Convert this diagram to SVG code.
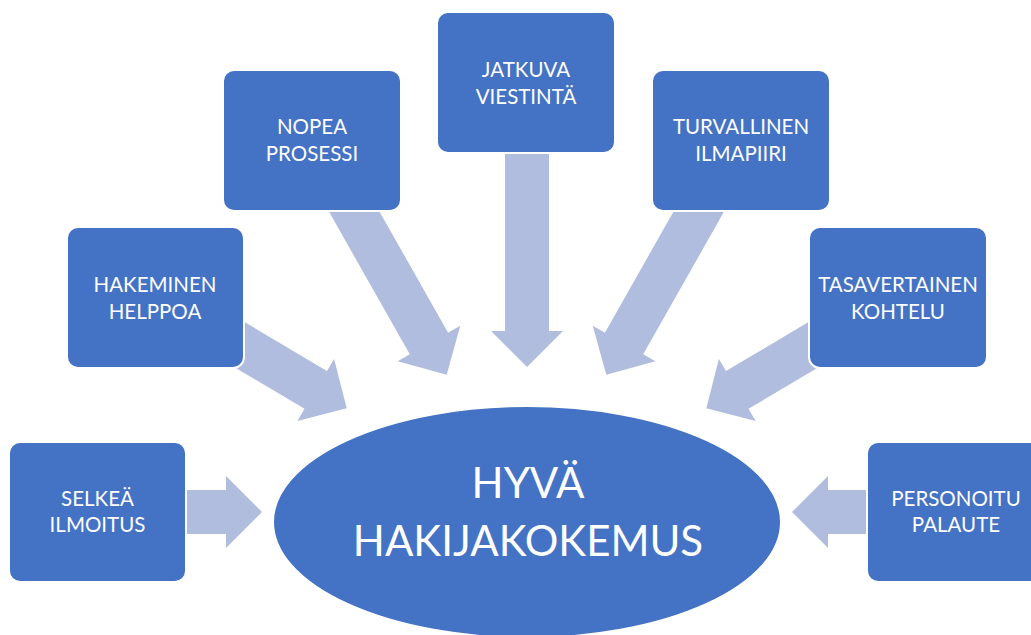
<svg xmlns="http://www.w3.org/2000/svg" width="1031" height="635" viewBox="0 0 1031 635">
<style>
.box{fill:#4472C4;stroke:#ffffff;stroke-width:2}
.arr{fill:#B0BDDF}
.t{font-family:Lato,"Open Sans","Liberation Sans",sans-serif;font-size:20.5px;fill:#ffffff;text-anchor:middle}
.big{font-family:Lato,"Open Sans","Liberation Sans",sans-serif;font-size:42px;fill:#ffffff;text-anchor:middle}
</style>
<defs>
<polygon id="a82" points="-82,-22 -36,-22 -36,-36 0,0 -36,36 -36,22 -82,22"/>
<polygon id="a90" points="-90,-22 -36,-22 -36,-36 0,0 -36,36 -36,22 -90,22"/>
<polygon id="a145" points="-145,-22 -36,-22 -36,-36 0,0 -36,36 -36,22 -145,22"/>
<polygon id="a215" points="-215,-22 -36,-22 -36,-36 0,0 -36,36 -36,22 -215,22"/>
<polygon id="a227" points="-227,-22 -36,-22 -36,-36 0,0 -36,36 -36,22 -227,22"/>
</defs>
<rect width="1031" height="635" fill="#ffffff"/>
<g id="connectors" class="arr">
<use href="#a82" transform="translate(262,512)"/>
<use href="#a90" transform="translate(792,512) rotate(180)"/>
<use href="#a227" transform="translate(527,367) rotate(90)"/>
<use href="#a215" transform="translate(446.7,374.8) rotate(60.46)"/>
<use href="#a215" transform="translate(606.3,374.8) rotate(119.54)"/>
<use href="#a145" transform="translate(346.7,408.3) rotate(30.7)"/>
<use href="#a145" transform="translate(706.3,408.3) rotate(149.3)"/>
</g>
<g id="center">
<ellipse cx="527" cy="522" rx="254" ry="116" fill="#4472C4" stroke="#ffffff" stroke-width="2"/>
<text class="big" x="528" y="498">HYVÄ</text>
<text class="big" x="528" y="556">HAKIJAKOKEMUS</text>
</g>
<g id="selkea">
<rect class="box" x="9" y="442" width="177" height="140" rx="11"/>
<text class="t" x="97.5" y="506">SELKEÄ</text>
<text class="t" x="97.5" y="532">ILMOITUS</text>
</g>
<g id="hakeminen">
<rect class="box" x="67" y="227" width="177" height="141" rx="11"/>
<text class="t" x="155" y="292">HAKEMINEN</text>
<text class="t" x="155" y="319">HELPPOA</text>
</g>
<g id="nopea">
<rect class="box" x="223" y="70" width="178" height="141" rx="11"/>
<text class="t" x="312" y="134">NOPEA</text>
<text class="t" x="312" y="161">PROSESSI</text>
</g>
<g id="jatkuva">
<rect class="box" x="437" y="12" width="178" height="141" rx="11"/>
<text class="t" x="526" y="77">JATKUVA</text>
<text class="t" x="526" y="104">VIESTINTÄ</text>
</g>
<g id="turvallinen">
<rect class="box" x="652" y="70" width="178" height="141" rx="11"/>
<text class="t" x="741" y="134">TURVALLINEN</text>
<text class="t" x="741" y="161">ILMAPIIRI</text>
</g>
<g id="tasavertainen">
<rect class="box" x="809" y="227" width="178" height="141" rx="11"/>
<text class="t" x="898" y="292">TASAVERTAINEN</text>
<text class="t" x="898" y="319">KOHTELU</text>
</g>
<g id="personoitu">
<rect class="box" x="867" y="442" width="178" height="140" rx="11"/>
<text class="t" x="956" y="506">PERSONOITU</text>
<text class="t" x="956" y="532">PALAUTE</text>
</g>
</svg>
